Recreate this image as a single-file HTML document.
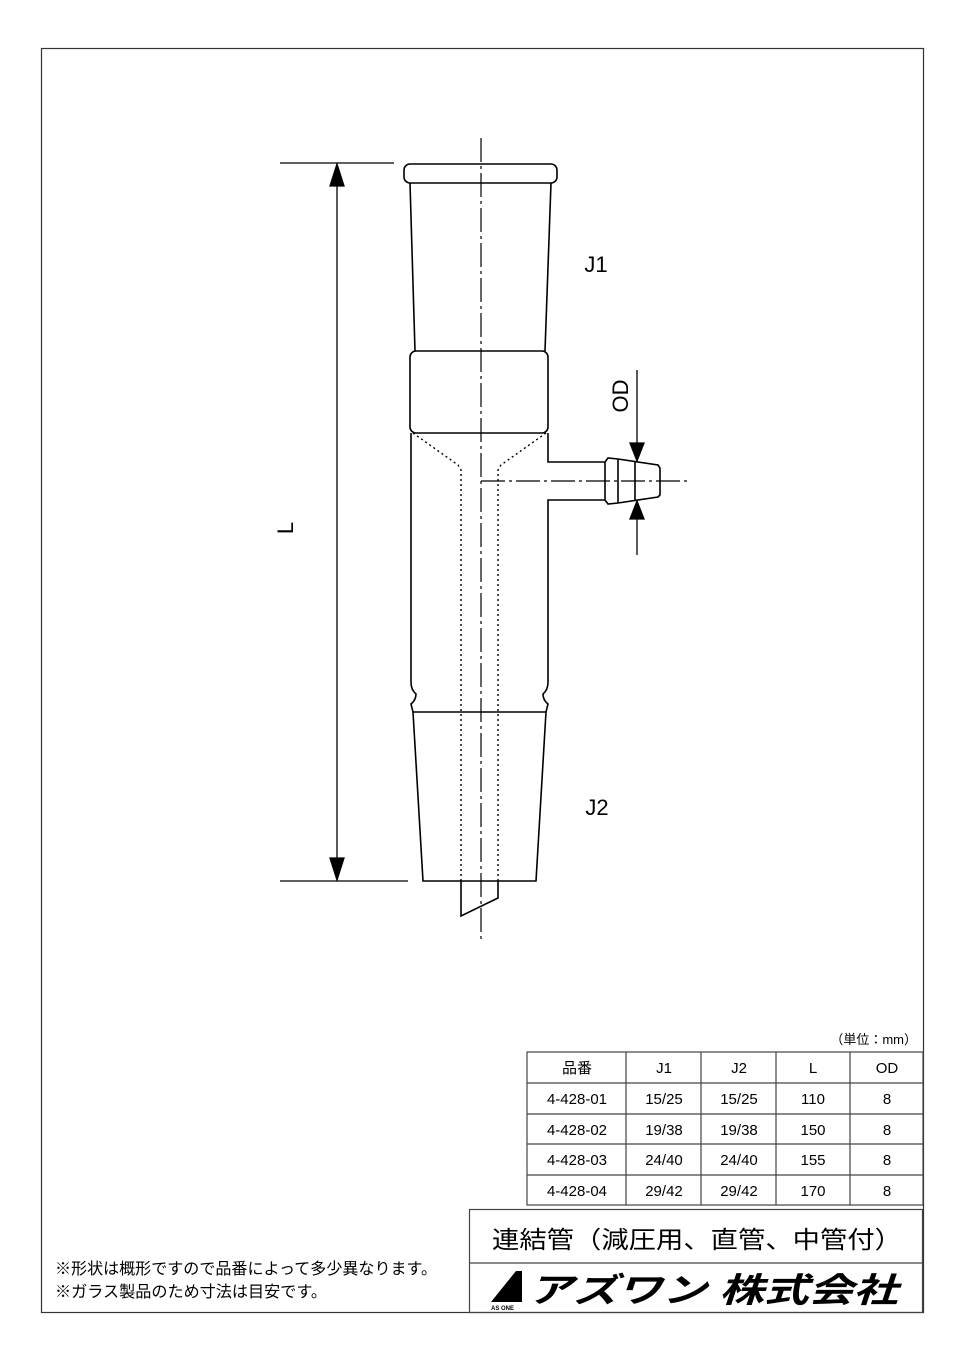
<!DOCTYPE html>
<html><head><meta charset="utf-8"><style>
html,body{margin:0;padding:0;background:#fff;}
svg{display:block;}
text{font-family:"Liberation Sans","Noto Sans CJK JP",sans-serif;fill:#000;}
</style></head><body>
<svg width="960" height="1358" viewBox="0 0 960 1358" xmlns="http://www.w3.org/2000/svg">
<rect x="41.5" y="48.5" width="882" height="1264" fill="none" stroke="#333" stroke-width="1.2"/>
<g fill="none" stroke="#000" stroke-width="1.6">
<rect x="404" y="164" width="153" height="19" rx="6"/>
<path d="M410 183 L415 351 M551 183 L545 351"/>
<rect x="410" y="351" width="138" height="82" rx="6"/>
<path d="M411 433 L411 682 Q411 690 416 694 Q416 700 411 704 L413 712 L423 881 L536 881 L546 712 L548 704 Q543 700 543 694 Q548 690 548 682 L548 500 L605 500 M548 433 L548 462 L605 462"/>
<path d="M413 712 L546 712"/>
<path d="M605 462 L608 458 L618 459 L658 465 L660 468 L660 495 L658 497 L618 503 L608 504 L605 500 Z M618 459 L618 503 M635 461 L635 501"/>
<path d="M461 881 L461 916 L498 898 L498 881"/>
</g>
<g fill="none" stroke="#000" stroke-width="1.4" stroke-dasharray="2 3">
<path d="M413 433 L458 465 L461 470 L461 881 M546 433 L501 465 L498 470 L498 881"/>
</g>
<g fill="none" stroke="#000" stroke-width="1.2" stroke-dasharray="24 4 3 4">
<path d="M481 138 L481 940 M481 481 L690 481"/>
</g>
<g stroke="#000" stroke-width="1.3" fill="#000">
<path d="M280 163 L394 163 M280 881 L408 881 M337 170 L337 874" fill="none"/>
<path d="M337 164 L330 186 L344 186 Z M337 880 L330 858 L344 858 Z"/>
<path d="M637 370 L637 458 M637 504 L637 555" fill="none"/>
<path d="M637 461 L630 443 L644 443 Z M637 501 L630 519 L644 519 Z"/>
</g>
<text x="596" y="272" font-size="22" text-anchor="middle">J1</text>
<text x="597" y="815" font-size="22" text-anchor="middle">J2</text>
<text x="0" y="0" font-size="22" transform="translate(293,528) rotate(-90)" text-anchor="middle">L</text>
<text x="0" y="0" font-size="22" transform="translate(628,396) rotate(-90)" text-anchor="middle">OD</text>
<text x="917" y="1044" font-size="13" text-anchor="end">（単位：mm）</text>
<g stroke="#444" stroke-width="1.2" fill="none">
<rect x="527" y="1052" width="396" height="153"/>
<path d="M527 1083 H923 M527 1114 H923 M527 1144 H923 M527 1175 H923 M626 1052 V1205 M701 1052 V1205 M776 1052 V1205 M850 1052 V1205"/>
<rect x="469.5" y="1209.5" width="453" height="103"/>
<path d="M469 1263 H923"/>
</g>
<g font-size="15" text-anchor="middle">
<text x="577" y="1073">品番</text><text x="664" y="1073">J1</text><text x="739" y="1073">J2</text><text x="813" y="1073">L</text><text x="887" y="1073">OD</text>
<text x="577" y="1104">4-428-01</text><text x="664" y="1104">15/25</text><text x="739" y="1104">15/25</text><text x="813" y="1104">110</text><text x="887" y="1104">8</text>
<text x="577" y="1135">4-428-02</text><text x="664" y="1135">19/38</text><text x="739" y="1135">19/38</text><text x="813" y="1135">150</text><text x="887" y="1135">8</text>
<text x="577" y="1165">4-428-03</text><text x="664" y="1165">24/40</text><text x="739" y="1165">24/40</text><text x="813" y="1165">155</text><text x="887" y="1165">8</text>
<text x="577" y="1196">4-428-04</text><text x="664" y="1196">29/42</text><text x="739" y="1196">29/42</text><text x="813" y="1196">170</text><text x="887" y="1196">8</text>
</g>
<text x="492" y="1248" font-size="24" textLength="410" lengthAdjust="spacingAndGlyphs">連結管（減圧用、直管、中管付）</text>
<path d="M491 1302 L516 1271 L522 1271 L522 1302 Z" fill="#000"/>
<text x="491" y="1310" font-size="6" font-weight="bold">AS ONE</text>
<text x="528" y="1302" font-size="34" font-weight="bold" font-style="italic" textLength="370" lengthAdjust="spacingAndGlyphs">アズワン 株式会社</text>
<text x="55" y="1274" font-size="16" textLength="382" lengthAdjust="spacingAndGlyphs">※形状は概形ですので品番によって多少異なります。</text>
<text x="55" y="1297" font-size="16" textLength="272" lengthAdjust="spacingAndGlyphs">※ガラス製品のため寸法は目安です。</text>
</svg>
</body></html>
